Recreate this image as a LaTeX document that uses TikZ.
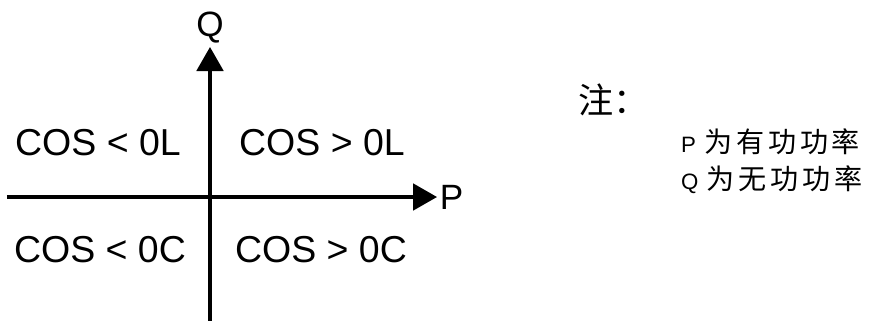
\documentclass[tikz,border=0pt]{standalone}
\usepackage{fontspec}
\setmainfont{Liberation Sans}
\newfontfamily\cjk{Noto Sans CJK SC}
\newfontfamily\cjkspaced[LetterSpace=13.5]{Noto Sans CJK SC}
\usetikzlibrary{arrows.meta, positioning}

\begin{document}
\begin{tikzpicture}[
		axis/.style={
			line width=2.6pt,
			-{Triangle[length=7.2mm, width=8mm]}
		},
		note/.style={
			inner sep=0pt,
			anchor=west
		}
	]
	\tikzstyle{Quad} = [ %quadrant and axis labels
		font=\fontsize{32}{32}\selectfont,
		inner sep=0pt
	]
	\tikzstyle{AxisLabel} = [
		font=\fontsize{30}{30}\selectfont,
		inner sep=0pt
	]
	\newcommand{\notesym}[1]{{\fontsize{19}{19}\selectfont #1}\hspace{7pt}}
	\newcommand{\notecjk}[1]{{\fontsize{24}{24}\selectfont\cjkspaced #1}}
	\useasboundingbox (-6.3,-3.69) rectangle (19.89,5.91);
	
	\coordinate (pl) at (-6.09,0);
	\coordinate (pr) at (6.81,0);
	\coordinate (qb) at (0,-3.8);
	\coordinate (qt) at (0,4.5);
	\draw[axis] (pl) -- (pr);
	\draw[axis] (qb) -- (qt);
	\node (P) [right = 0.08cm of pr, AxisLabel] {P};
	\node (Q) [above = 0.12cm of qt, AxisLabel] {Q};
	
	\node (ql) [Quad] at (-3.36,1.62) {COS < 0L};
	\node (qr) [Quad] at (3.36,1.62) {COS > 0L};
	\node (cl) [Quad] at (-3.3,-1.59) {COS < 0C};
	\node (cr) [Quad] at (3.33,-1.59) {COS > 0C};
	
	\node (zhu) [note, font=\fontsize{30}{30}\selectfont\cjk] at (11.05,2.91) {注：};
	\node (pn) [note] at (14.13,1.665) {\notesym{P}\notecjk{为有功功率}};
	\node (qn) [note] at (14.13,0.51) {\notesym{Q}\notecjk{为无功功率}};
\end{tikzpicture}
\end{document}
